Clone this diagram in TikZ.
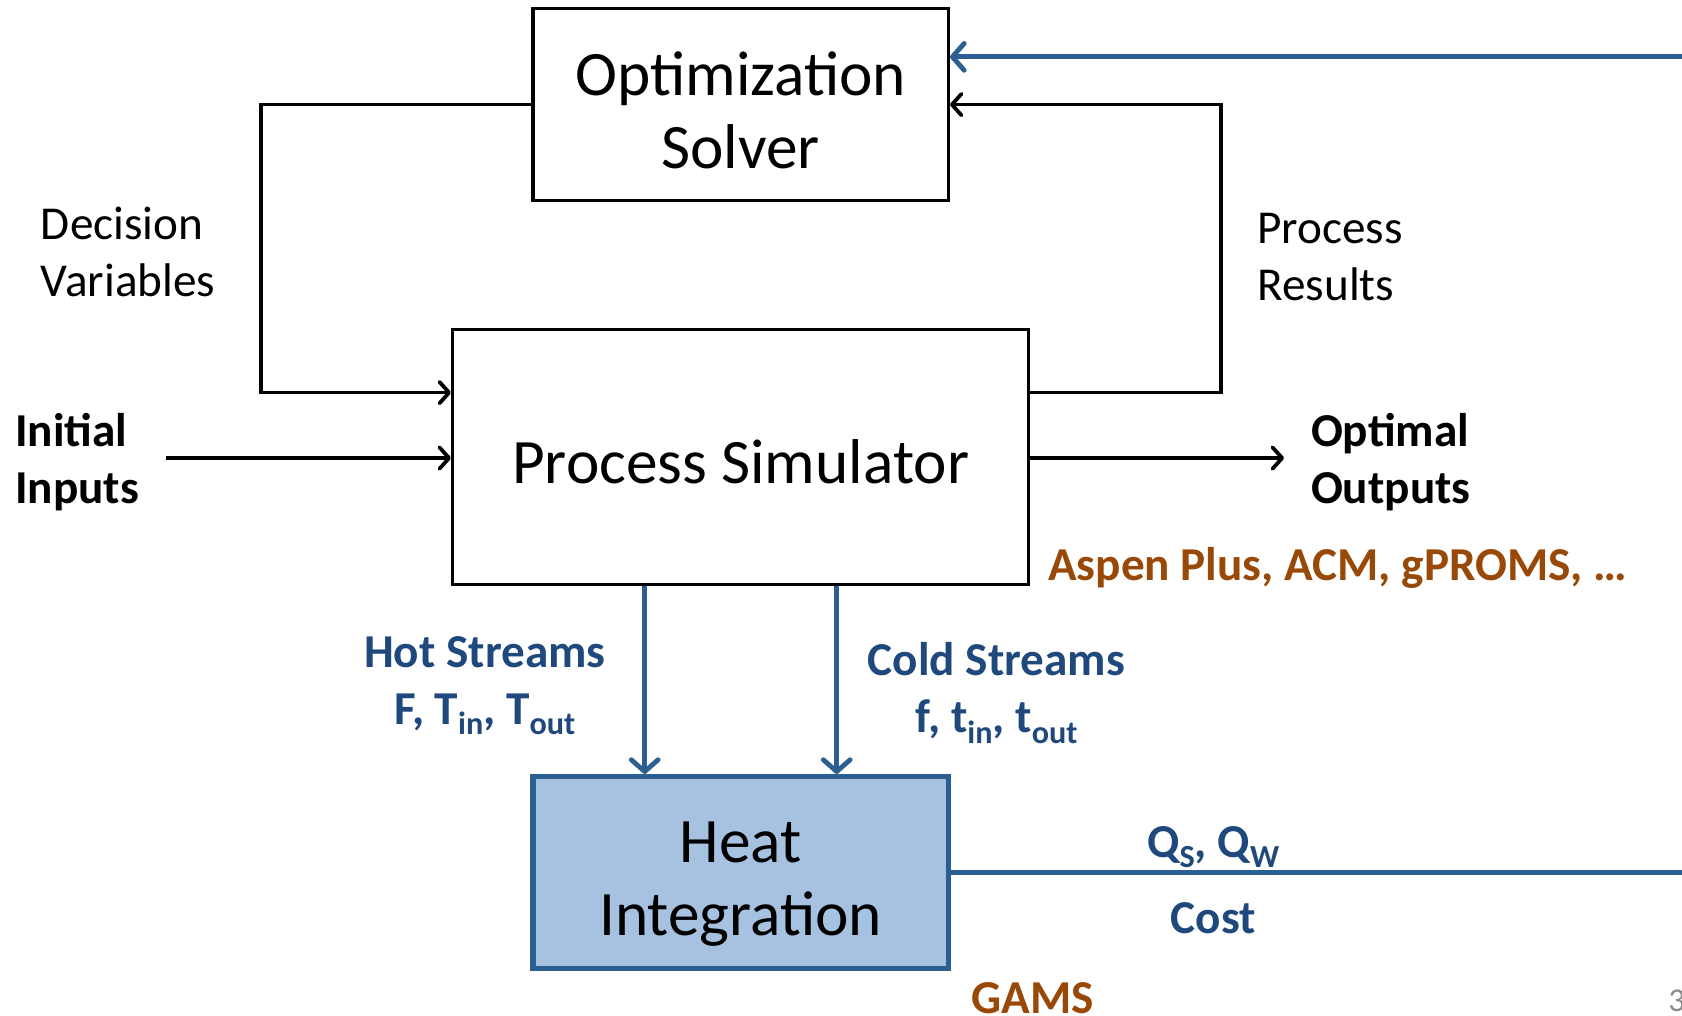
\documentclass[tikz,border=0pt]{standalone}
\usepackage{fontspec}
\setmainfont{Carlito}
\usetikzlibrary{arrows.meta}
\definecolor{lineblue}{HTML}{2B5E91}
\definecolor{txtblue}{HTML}{1F497D}
\definecolor{fillblue}{HTML}{A7C1E0}
\definecolor{orng}{HTML}{984807}
\definecolor{pggrey}{HTML}{8C8C8C}
\newcommand\sbs[1]{\raisebox{-0.22em}{\fontsize{30}{30}\selectfont #1}}
\begin{document}
\begin{tikzpicture}[x=1pt,y=-1pt,
  boxsty/.style={draw=black, line width=3.2pt, inner sep=0pt, align=center,
                 font=\fontsize{59}{68}\selectfont},
  heatsty/.style={boxsty, draw=lineblue, fill=fillblue, line width=5pt},
  lab/.style={inner sep=0pt, font=\fontsize{44}{53}\selectfont},
  blab/.style={inner sep=0pt, font=\fontsize{44}{53}\selectfont\bfseries},
  blkarrow/.style={line width=3.5pt, black, line join=miter, -{Straight Barb[length=9pt,width=20pt,round]}},
  bluarrow/.style={line width=4.5pt, lineblue, -{Straight Barb[length=11pt,width=25pt,round]}},
  blueline/.style={line width=4.5pt, lineblue}
]
\useasboundingbox (0,0) rectangle (1568,947);

% boxes
\node[boxsty, minimum width=387pt, minimum height=179pt, text height=119pt, text depth=0pt]
  (opt) at (690.5,97.5) {Optimization\\Solver};
\node[boxsty, minimum width=537pt, minimum height=238pt, text height=50pt, text depth=0pt]
  (proc) at (690.5,426) {Process Simulator};
\node[heatsty, minimum width=387pt, minimum height=179pt, text height=117pt, text depth=0pt]
  (heat) at (690.5,813.5) {Heat\\Integration};

% bend / free-end coordinates
\coordinate (dvT) at (243,97.5);
\coordinate (dvB) at (243,366);
\coordinate (prT) at (1138,97.5);
\coordinate (prB) at (1138,366);
\coordinate (fbT) at (1568,53);
\coordinate (fbB) at (1568,813.5);
\coordinate (inS) at (155,427);
\coordinate (outE) at (1197,427);
\coordinate (hotX) at (601,640);
\coordinate (coldX) at (780,640);

% connectors
\draw[blkarrow] (opt.west) -- (dvT) -- (dvB) -- (dvB -| proc.west);
\draw[blkarrow] (prB -| proc.east) -- (prB) -- (prT) -- (prT -| opt.east);
\draw[bluarrow] (fbT) -- (fbT -| opt.east);
\draw[blueline] (heat.east) -- (fbB);
\draw[blkarrow] (inS) -- (inS -| proc.west);
\draw[blkarrow] (outE -| proc.east) -- (outE);
\draw[bluarrow] (hotX |- proc.south) -- (hotX |- heat.north);
\draw[bluarrow] (coldX |- proc.south) -- (coldX |- heat.north);

% labels (base anchor = baseline of last line)
\node[lab, anchor=base west, align=left] (dv) at (38,276) {Decision\\Variables};
\node[lab, anchor=base west, align=left] (pr) at (1172,280) {Process\\Results};
\node[blab, anchor=base west, align=left] (ini) at (14,469) {Initial\\Inputs};
\node[blab, anchor=base west, align=left] (oo) at (1222,469) {Optimal\\Outputs};
\node[blab, text=orng, anchor=base west] (asp) at (977,541) {Aspen Plus, ACM, gPROMS, …};
\node[blab, text=txtblue, anchor=base, align=center] (hot) at (452,675)
  {Hot Streams\\F, T\sbs{in}, T\sbs{out}};
\node[blab, text=txtblue, anchor=base, align=center] (cold) at (929,683)
  {Cold Streams\\f, t\sbs{in}, t\sbs{out}};
\node[blab, text=txtblue, anchor=base] (q) at (1131,799) {Q\sbs{S}, Q\sbs{W}};
\node[blab, text=txtblue, anchor=base] (cost) at (1131,870) {Cost};
\node[blab, text=orng, anchor=base] (gams) at (963,945) {GAMS};
\node[inner sep=0pt, font=\fontsize{31}{31}\selectfont, text=pggrey, anchor=base west] (pg) at (1555,943) {3};
\end{tikzpicture}
\end{document}
